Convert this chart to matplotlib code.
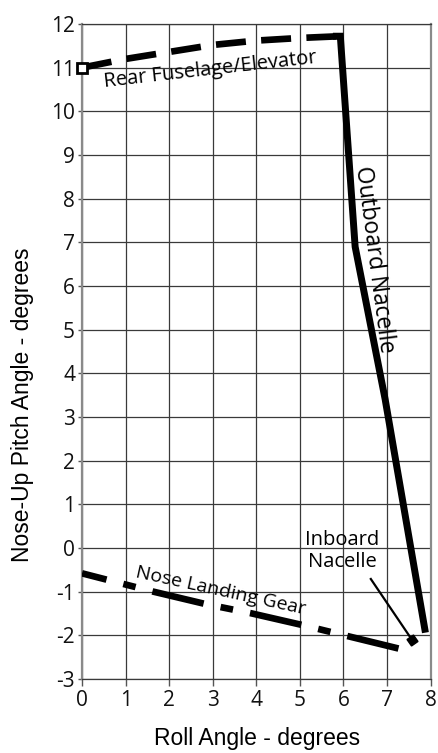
import numpy as np
from matplotlib import pyplot as plt

plt.rcParams['axes.unicode_minus'] = False

rear_x = [0.0, 1.0, 2.0, 3.0, 4.0, 5.0, 5.92]
rear_y = [11.0, 11.2, 11.36, 11.52, 11.62, 11.68, 11.72]

outb_x = [5.84, 5.93, 6.27, 6.96, 7.87]
outb_y = [11.72, 11.72, 6.9, 3.4, -1.86]

nlg_x = [0.0, 1.64, 2.82, 3.86, 5.04, 7.34]
nlg_y = [-0.58, -1.00, -1.28, -1.49, -1.76, -2.32]

inb_ptr_x = [6.63, 7.58]
inb_ptr_y = [-0.71, -2.11]

xticks = np.arange(0, 9)
yticks = np.arange(-3, 13)

tick_font = 'Open Sans'
lab_font = 'Liberation Sans'

fig = plt.figure(figsize=(4.38, 7.53), dpi=100)
ax = fig.add_axes([82/438, 1 - 679/753, 348.5/438, 655/753])

ax.set_xlim(0, 8)
ax.set_ylim(-3, 12)
ax.set_xticks(xticks)
ax.set_yticks(yticks)
ax.grid(True, color='#3a3a3a', lw=0.9)
ax.set_axisbelow(True)

for s in ['top', 'bottom']:
    ax.spines[s].set_color('#3a3a3a')
    ax.spines[s].set_linewidth(0.9)
for s in ['left', 'right']:
    ax.spines[s].set_color('#8a8a8a')
    ax.spines[s].set_linewidth(1.6)

ax.tick_params(axis='y', direction='out', length=3, width=1, color='#555555', pad=2)
ax.tick_params(axis='x', direction='out', length=5, width=1, color='#555555', pad=3)
for lab in ax.get_xticklabels() + ax.get_yticklabels():
    lab.set_fontfamily(tick_font)
    lab.set_fontsize(15)
    lab.set_color('#111111')

# rear fuselage / elevator - dashed
ax.plot(rear_x, rear_y, color='black', lw=4.8, linestyle=(0, (4.5, 2.3)),
        dash_capstyle='butt', zorder=3)
ax.plot(rear_x[0], rear_y[0], marker='s', ms=7, mfc='white', mec='black', mew=2,
        zorder=5, clip_on=False)

# outboard nacelle - solid
ax.plot(outb_x, outb_y, color='black', lw=5, solid_joinstyle='miter',
        solid_capstyle='projecting', zorder=3)

# nose landing gear - dash dot
ax.plot(nlg_x, nlg_y, color='black', lw=4.8,
        linestyle=(4.1, (7.9, 2.6, 1.9, 2.6)), zorder=3)

# inboard nacelle pointer
ax.plot(inb_ptr_x, inb_ptr_y, color='black', lw=1.6, zorder=3)
ax.plot(inb_ptr_x[1], inb_ptr_y[1], marker=(4, 0, 80), ms=8, color='black', zorder=4)

ax.text(2.94, 10.95, 'Rear Fuselage/Elevator', family=tick_font, fontsize=14.5,
        rotation=6.5, ha='center', va='center')
ax.text(6.70, 6.60, 'Outboard Nacelle', family=tick_font, fontsize=16.5,
        rotation=-82.5, ha='center', va='center')
ax.text(3.19, -0.98, 'Nose Landing Gear', family=tick_font, fontsize=14,
        rotation=-12.4, ha='center', va='center')
ax.text(5.97, -0.07, 'Inboard\nNacelle', family=tick_font, fontsize=14.5,
        ha='center', va='center', linespacing=1.15)

fig.text(257/438, 1 - 738/753, 'Roll Angle - degrees', family=lab_font,
         fontsize=16.5, ha='center', va='center')
fig.text(23/438, 1 - 405/753, 'Nose-Up Pitch Angle - degrees', family=lab_font,
         fontsize=16.5, rotation=90, ha='center', va='center')

plt.savefig('out.png', dpi=100)
